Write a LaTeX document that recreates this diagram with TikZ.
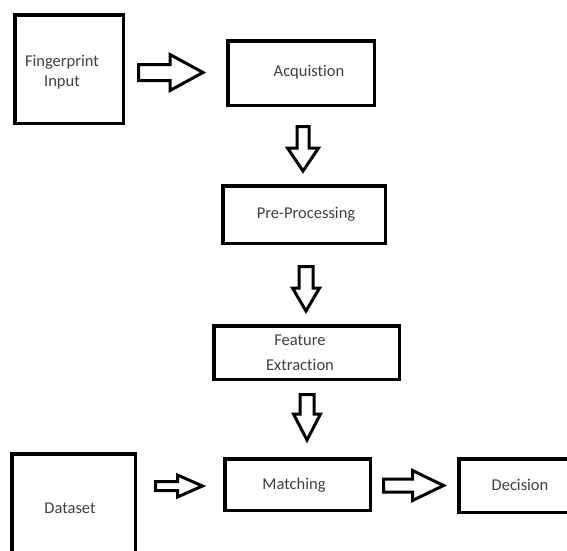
\documentclass[tikz,border=0pt]{standalone}
\usepackage{fontspec}
\setmainfont[Ligatures=NoCommon]{Carlito}
\usetikzlibrary{calc}
\tikzset{
  box/.style={draw=black, line width=3.5pt, fill=white, inner sep=0pt},
  txt/.style={text=black!75, font=\fontsize{16.5}{20}\selectfont, align=center, inner sep=0pt},
  barrow/.style n args={3}{draw=black, line width=3pt, line join=miter, fill=white,
    to path={
      let \p1=($(\tikztotarget)!#3!(\tikztostart)$) in
      ($(\tikztostart)!#1!90:(\tikztotarget)$) -- ($(\p1)!#1!90:(\tikztotarget)$)
      -- ($(\p1)!#2!90:(\tikztotarget)$) -- (\tikztotarget)
      -- ($(\p1)!#2!-90:(\tikztotarget)$) -- ($(\p1)!#1!-90:(\tikztotarget)$)
      -- ($(\tikztostart)!#1!-90:(\tikztotarget)$) -- cycle
    }}
}
\begin{document}
\begin{tikzpicture}[x=1pt, y=-1pt]
\useasboundingbox (0,0) rectangle (567,550);
\clip (0,0) rectangle (567,550);
\fill[white] (0,0) rectangle (567,550);

% boxes
\node[box, minimum width=108.5pt, minimum height=108.5pt] (fp) at (69,69) {};
\node[box, minimum width=146.5pt, minimum height=64.5pt] (acq) at (301,73) {};
\node[box, minimum width=162.5pt, minimum height=57.5pt] (pre) at (304,214.5) {};
\node[box, minimum width=185.5pt, minimum height=53.5pt] (feat) at (306.5,352.5) {};
\node[box, minimum width=123.5pt, minimum height=114.5pt] (data) at (73.5,511) {};
\node[box, minimum width=145.5pt, minimum height=51.5pt] (match) at (297.5,484.5) {};
\node[box, minimum width=129.5pt, minimum height=53.5pt] (dec) at (523.5,485.5) {};

% texts
\node[txt] (fpt) at (62,72) {Fingerprint\\Input};
\node[txt] (acqt) at (309,72) {Acquistion};
\node[txt] (pret) at (306,214) {Pre-Processing};
\node[txt, font=\fontsize{16.5}{25}\selectfont] (featt) at (300,353) {Feature\\Extraction};
\node[txt] (datat) at (70,508) {Dataset};
\node[txt] (matcht) at (294,485) {Matching};
\node[txt] (dect) at (520,485) {Decision};

% block arrows
\coordinate (a1s) at ($(fp.east)+(13.5,3.5)$);
\coordinate (a1e) at ($(acq.west)+(-23,-0.5)$);
\draw[barrow={8pt}{18pt}{33pt}] (a1s) to (a1e);

\coordinate (a2s) at ($(acq.south)+(2,19.5)$);
\coordinate (a2e) at ($(pre.north)+(-1,-13)$);
\draw[barrow={6pt}{15.5pt}{23pt}] (a2s) to (a2e);

\coordinate (a3s) at ($(pre.south)+(2,21.5)$);
\coordinate (a3e) at ($(feat.north)+(-0.5,-13)$);
\draw[barrow={7pt}{13.5pt}{23pt}] (a3s) to (a3e);

\coordinate (a4s) at ($(feat.south)+(0.5,13.5)$);
\coordinate (a4e) at ($(match.north)+(9.5,-17)$);
\draw[barrow={7pt}{13.5pt}{26pt}] (a4s) to (a4e);

\coordinate (a5s) at ($(data.east)+(18.5,-25)$);
\coordinate (a5e) at ($(match.west)+(-20.5,1.5)$);
\draw[barrow={4.5pt}{11pt}{25pt}] (a5s) to (a5e);

\coordinate (a6s) at ($(match.east)+(11.5,1)$);
\coordinate (a6e) at ($(dec.west)+(-13.5,0)$);
\draw[barrow={6.5pt}{15pt}{31pt}] (a6s) to (a6e);
\end{tikzpicture}
\end{document}
